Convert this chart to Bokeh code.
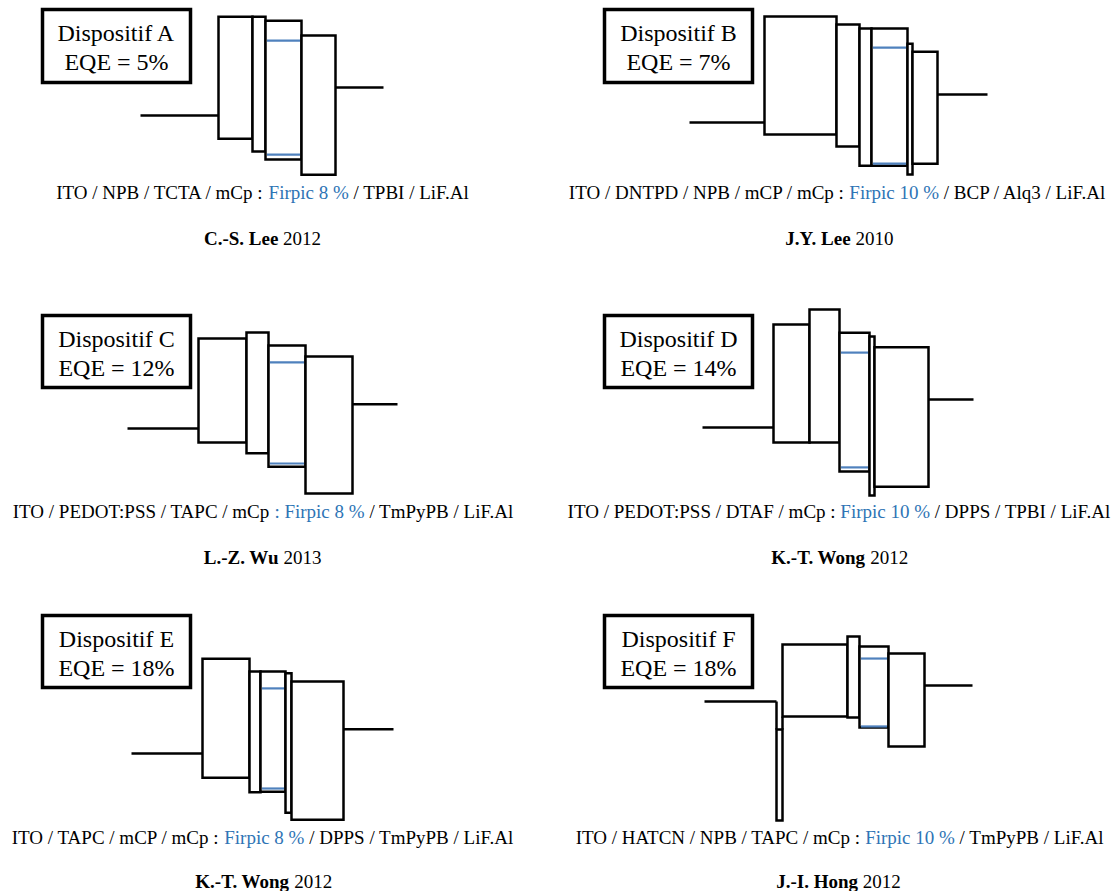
from bokeh.plotting import figure
from bokeh.models import Range1d
from bokeh.core.properties import value
from bokeh.embed import file_html
from bokeh.resources import INLINE

# ---------------- data (energies in eV) ----------------
devices = ["A", "B", "C", "D", "E", "F"]
eqe = ["5%", "7%", "12%", "14%", "18%", "18%"]
ito_level = [-4.80, -4.80, -4.80, -4.80, -4.80, -4.80]
cathode_level = [-4.10, -4.10, -4.11, -4.00, -4.11, -4.13]

layers_A = ["NPB", "TCTA", "mCp:Firpic", "TPBI"]
lumo_A = [-2.33, -2.33, -2.43, -2.80]
homo_A = [-5.38, -5.70, -5.90, -6.28]

layers_B = ["DNTPD", "NPB", "mCP", "mCp:Firpic", "BCP", "Alq3"]
lumo_B = [-2.15, -2.35, -2.45, -2.45, -2.83, -3.03]
homo_B = [-5.10, -5.40, -5.88, -5.88, -6.10, -5.83]

layers_C = ["PEDOT:PSS", "TAPC", "mCp:Firpic", "TmPyPB"]
lumo_C = [-2.23, -2.06, -2.43, -2.74]
homo_C = [-5.20, -5.51, -5.89, -6.66]

layers_D = ["PEDOT:PSS", "DTAF", "mCp:Firpic", "DPPS", "TPBI"]
lumo_D = [-1.86, -1.43, -2.09, -2.20, -2.51]
homo_D = [-5.23, -5.23, -6.06, -6.74, -6.49]

layers_E = ["TAPC", "mCP", "mCp:Firpic", "DPPS", "TmPyPB"]
lumo_E = [-2.09, -2.46, -2.46, -2.51, -2.74]
homo_E = [-5.49, -5.91, -5.89, -6.49, -6.69]

layers_F = ["HATCN", "NPB", "TAPC", "mCp:Firpic", "TmPyPB"]
lumo_F = [-5.97, -2.43, -2.09, -2.51, -2.80]
homo_F = [-9.76, -5.43, -5.47, -5.88, -6.68]

firpic_lumo = [-2.93, -2.93, -2.91, -2.66, -2.94, -3.01]
firpic_homo = [-5.78, -5.83, -5.80, -5.94, -5.80, -5.84]
eml_index = [2, 3, 2, 2, 2, 3]

caption_pre = ["ITO / NPB / TCTA / mCp :",
               "ITO / DNTPD / NPB / mCP / mCp :",
               "ITO / PEDOT:PSS / TAPC / mCp",
               "ITO / PEDOT:PSS / DTAF / mCp :",
               "ITO / TAPC / mCP / mCp :",
               "ITO / HATCN / NPB / TAPC / mCp :"]
caption_dopant = ["Firpic 8 %", "Firpic 10 %", ": Firpic 8 %",
                  "Firpic 10 %", "Firpic 8 %", "Firpic 10 %"]
caption_post = ["/ TPBI / LiF.Al",
                "/ BCP / Alq3 / LiF.Al",
                "/ TmPyPB / LiF.Al",
                "/ DPPS / TPBI / LiF.Al",
                "/ DPPS / TmPyPB / LiF.Al",
                "/ TmPyPB / LiF.Al"]
authors = ["C.-S. Lee", "J.Y. Lee", "L.-Z. Wu", "K.-T. Wong", "K.-T. Wong", "J.-I. Hong"]
years = ["2012", "2010", "2013", "2012", "2012", "2012"]

lumos = [lumo_A, lumo_B, lumo_C, lumo_D, lumo_E, lumo_F]
homos = [homo_A, homo_B, homo_C, homo_D, homo_E, homo_F]

# ---------------- layout (page pixels) ----------------
ito_x0 = [140, 689, 127, 702, 131, 704]
ito_len = [78, 75, 71, 71, 71, 72]
layer_w = [[34, 13, 36, 34],
           [72, 23, 12, 36, 5, 25],
           [48, 22, 37, 47],
           [36, 30, 30, 5, 54],
           [47, 11, 25, 6, 52],
           [6, 65, 12, 29, 36]]
cath_len = [48, 50, 45, 45, 50, 48]
y_ito_px = [115, 122, 428, 427, 753, 701]
px_per_ev = [40, 40, 35, 35, 35, 24]
col_cx = [262, 838, 262, 838, 262, 838]
caption_y = [192, 192, 511, 511, 837, 837]
author_y = [238, 238, 557, 557, 880.5, 880.5]
box_x = [(42, 190), (604, 752), (42, 190), (604, 752), (42, 190), (604, 752)]
box_y = [(9, 82), (9, 82), (315, 387), (315, 387), (615, 687), (615, 687)]

FONT = value("Liberation Serif")
CAP_SIZE = 19
BOX_SIZE = 24
BLACK = "#000000"
BLUE_TXT = "#2E74B5"
BLUE_LINE = "#4F81BD"

W_REG = {' ': 250, '/': 278, ':': 278, '.': 250, '%': 833, '-': 333,
         '0': 500, '1': 500, '2': 500, '3': 500, '4': 500, '5': 500,
         '6': 500, '7': 500, '8': 500, '9': 500,
         'A': 722, 'B': 667, 'C': 667, 'D': 722, 'E': 611, 'F': 556, 'H': 722,
         'I': 333, 'L': 611, 'N': 722, 'O': 722, 'P': 556, 'S': 556, 'T': 611,
         'Y': 722, 'a': 444, 'c': 444, 'e': 444, 'i': 278, 'l': 278, 'm': 778,
         'p': 500, 'q': 500, 'r': 333, 'y': 500, 'o': 500, 'n': 500, 'g': 500}
W_BOLD = {' ': 250, '.': 250, '-': 333, 'C': 722, 'S': 556, 'L': 667, 'J': 500,
          'Y': 722, 'Z': 667, 'W': 1000, 'K': 778, 'T': 667, 'I': 389, 'H': 778,
          'e': 444, 'u': 556, 'o': 500, 'n': 556, 'g': 500}


def tw(s, table, size):
    return sum(table.get(ch, 500) for ch in s) / 1000.0 * size


p = figure(width=1113, height=891, output_backend="svg", toolbar_location=None,
           x_range=Range1d(0, 1113), y_range=Range1d(891, 0),
           x_axis_type=None, y_axis_type=None, min_border=0,
           outline_line_color=None, background_fill_color="white",
           border_fill_color="white")
p.grid.visible = False

txt_kw = dict(text_baseline="middle", text_font=FONT,
              text_font_size="%dpx" % CAP_SIZE)

for i in range(6):
    def Y(E, i=i):
        return y_ito_px[i] - (E - ito_level[i]) * px_per_ev[i]

    lumo = lumos[i]
    homo = homos[i]
    lefts, rights = [], []
    x = ito_x0[i] + ito_len[i]
    for w in layer_w[i]:
        lefts.append(x)
        rights.append(x + w)
        x += w
    # electrodes
    p.line([ito_x0[i], lefts[0]], [Y(ito_level[i]), Y(ito_level[i])],
           line_color=BLACK, line_width=2.5)
    if lumo[0] < ito_level[i]:
        p.line([lefts[0], lefts[0]], [Y(ito_level[i]), Y(lumo[0])],
               line_color=BLACK, line_width=2.5)
    p.line([rights[-1], rights[-1] + cath_len[i]],
           [Y(cathode_level[i]), Y(cathode_level[i])],
           line_color=BLACK, line_width=2.5)
    # layers
    p.quad(left=lefts, right=rights, top=[Y(v) for v in lumo],
           bottom=[Y(v) for v in homo], fill_color="white",
           line_color=BLACK, line_width=2.5, line_join="miter")
    # connectors between non-overlapping neighbours
    for j in range(len(lumo) - 1):
        if lumo[j] < homo[j + 1]:
            p.line([rights[j], rights[j]], [Y(homo[j + 1]), Y(lumo[j])],
                   line_color=BLACK, line_width=2.5)
    # dopant levels
    e = eml_index[i]
    p.segment(x0=[lefts[e] + 1.5] * 2, x1=[rights[e] - 1.5] * 2,
              y0=[Y(firpic_lumo[i]), Y(firpic_homo[i])],
              y1=[Y(firpic_lumo[i]), Y(firpic_homo[i])],
              line_color=BLUE_LINE, line_width=2.2)

    # device box
    bx0, bx1 = box_x[i]
    by0, by1 = box_y[i]
    p.quad(left=[bx0], right=[bx1], top=[by0], bottom=[by1],
           fill_color="white", line_color=BLACK, line_width=3.5,
           line_join="miter")
    bcx = (bx0 + bx1) / 2
    bcy = (by0 + by1) / 2
    p.text(x=[bcx, bcx], y=[bcy - 13, bcy + 16],
           text=["Dispositif " + devices[i], "EQE = " + eqe[i]],
           text_align="center", text_baseline="middle",
           text_font=FONT, text_font_size="%dpx" % BOX_SIZE, text_color=BLACK)

    # caption with coloured dopant (anchored at the dopant start)
    pre, dop, post = caption_pre[i], caption_dopant[i], caption_post[i]
    sp = tw(" ", W_REG, CAP_SIZE)
    wpre = tw(pre, W_REG, CAP_SIZE) + sp
    wdop = tw(dop, W_REG, CAP_SIZE) + sp
    wpost = tw(post, W_REG, CAP_SIZE)
    left = col_cx[i] - (wpre + wdop + wpost) / 2
    xdop = left + wpre
    cy = caption_y[i]
    p.text(x=[xdop - sp], y=[cy], text=[pre], text_align="right",
           text_color=BLACK, **txt_kw)
    p.text(x=[xdop], y=[cy], text=[dop], text_align="left",
           text_color=BLUE_TXT, **txt_kw)
    p.text(x=[xdop + wdop], y=[cy], text=[post], text_align="left",
           text_color=BLACK, **txt_kw)

    # author (bold) + year
    wb = tw(authors[i], W_BOLD, CAP_SIZE)
    wy = tw(years[i], W_REG, CAP_SIZE)
    aleft = col_cx[i] - (wb + sp + wy) / 2
    xyear = aleft + wb + sp
    ay = author_y[i]
    p.text(x=[xyear - sp], y=[ay], text=[authors[i]], text_align="right",
           text_font_style="bold", text_color=BLACK, **txt_kw)
    p.text(x=[xyear], y=[ay], text=[years[i]], text_align="left",
           text_color=BLACK, **txt_kw)

open("out.html", "w").write(file_html(p, INLINE))
